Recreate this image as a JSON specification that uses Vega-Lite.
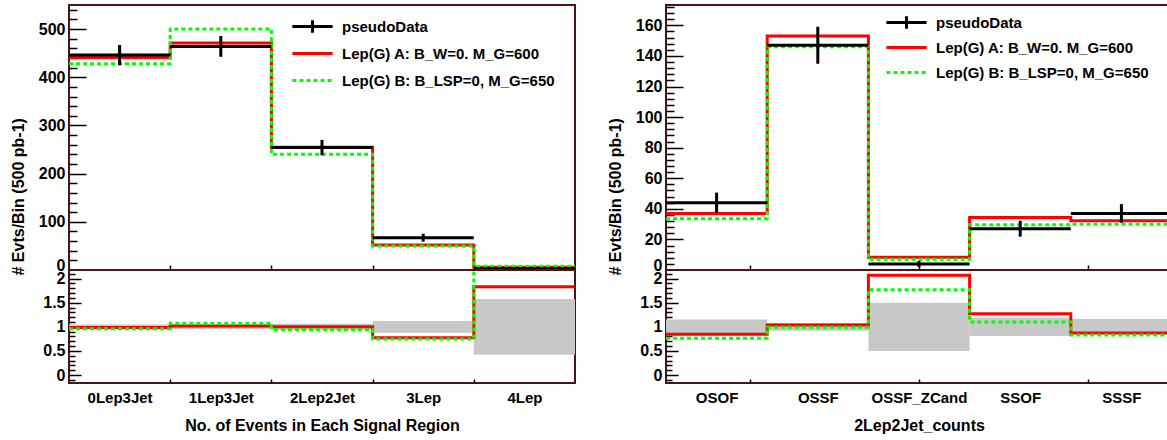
{
  "$schema": "https://vega.github.io/schema/vega-lite/v6.json",
  "background": "white",
  "padding": {"left": 9, "top": 4, "right": 0, "bottom": 0},
  "config": {
    "font": "Liberation Sans",
    "view": {"stroke": "#4a1515", "strokeWidth": 2, "fill": "white"},
    "axis": {
      "labelFont": "Liberation Sans", "labelFontWeight": "bold", "labelColor": "#000", "labelFontSize": 16,
      "labelFlush": false, "labelOverlap": false,
      "titleFont": "Liberation Sans", "titleFontWeight": "bold", "titleColor": "#000", "titleFontSize": 16,
      "domain": false, "grid": false, "tickColor": "#000", "tickWidth": 1.5
    }
  },
  "datasets": {
    "sr_model": [
      {"series": "A", "edge": 0, "v": 441}, {"series": "A", "edge": 1, "v": 471}, {"series": "A", "edge": 2, "v": 255},
      {"series": "A", "edge": 3, "v": 52}, {"series": "A", "edge": 4, "v": 5.5}, {"series": "A", "edge": 5, "v": 5.5},
      {"series": "B", "edge": 0, "v": 428}, {"series": "B", "edge": 1, "v": 500}, {"series": "B", "edge": 2, "v": 240},
      {"series": "B", "edge": 3, "v": 50}, {"series": "B", "edge": 4, "v": 8}, {"series": "B", "edge": 5, "v": 8}
    ],
    "sr_data": [
      {"region": "0Lep3Jet", "lo": 0, "mid": 0.5, "hi": 1, "n": 446, "n_lo": 425, "n_hi": 467},
      {"region": "1Lep3Jet", "lo": 1, "mid": 1.5, "hi": 2, "n": 464, "n_lo": 442.5, "n_hi": 485.5},
      {"region": "2Lep2Jet", "lo": 2, "mid": 2.5, "hi": 3, "n": 254, "n_lo": 238, "n_hi": 270},
      {"region": "3Lep", "lo": 3, "mid": 3.5, "hi": 4, "n": 67, "n_lo": 58.8, "n_hi": 75.2},
      {"region": "4Lep", "lo": 4, "mid": 4.5, "hi": 5, "n": 3, "n_lo": 1.3, "n_hi": 4.7}
    ],
    "sr_ratio": [
      {"series": "A", "edge": 0, "r": 0.988}, {"series": "A", "edge": 1, "r": 1.015}, {"series": "A", "edge": 2, "r": 1.0},
      {"series": "A", "edge": 3, "r": 0.776}, {"series": "A", "edge": 4, "r": 1.83}, {"series": "A", "edge": 5, "r": 1.83},
      {"series": "B", "edge": 0, "r": 0.959}, {"series": "B", "edge": 1, "r": 1.077}, {"series": "B", "edge": 2, "r": 0.945},
      {"series": "B", "edge": 3, "r": 0.746}, {"series": "B", "edge": 4, "r": 2.67}, {"series": "B", "edge": 5, "r": 2.67}
    ],
    "sr_band": [
      {"region": "0Lep3Jet", "lo": 0, "hi": 1, "b_lo": 0.953, "b_hi": 1.047},
      {"region": "1Lep3Jet", "lo": 1, "hi": 2, "b_lo": 0.954, "b_hi": 1.046},
      {"region": "2Lep2Jet", "lo": 2, "hi": 3, "b_lo": 0.937, "b_hi": 1.063},
      {"region": "3Lep", "lo": 3, "hi": 4, "b_lo": 0.878, "b_hi": 1.122},
      {"region": "4Lep", "lo": 4, "hi": 5, "b_lo": 0.423, "b_hi": 1.577}
    ],
    "ll_model": [
      {"series": "A", "edge": 0, "v": 37}, {"series": "A", "edge": 1, "v": 153}, {"series": "A", "edge": 2, "v": 8.3},
      {"series": "A", "edge": 3, "v": 34.3}, {"series": "A", "edge": 4, "v": 32.2}, {"series": "A", "edge": 5, "v": 32.2},
      {"series": "B", "edge": 0, "v": 33.5}, {"series": "B", "edge": 1, "v": 146}, {"series": "B", "edge": 2, "v": 7.1},
      {"series": "B", "edge": 3, "v": 29.6}, {"series": "B", "edge": 4, "v": 30}, {"series": "B", "edge": 5, "v": 30}
    ],
    "ll_data": [
      {"region": "OSOF", "lo": 0, "mid": 0.5, "hi": 1, "n": 44, "n_lo": 37.4, "n_hi": 50.6},
      {"region": "OSSF", "lo": 1, "mid": 1.5, "hi": 2, "n": 147, "n_lo": 134.9, "n_hi": 159.1},
      {"region": "OSSF_ZCand", "lo": 2, "mid": 2.5, "hi": 3, "n": 4, "n_lo": 2, "n_hi": 6},
      {"region": "SSOF", "lo": 3, "mid": 3.5, "hi": 4, "n": 27, "n_lo": 21.8, "n_hi": 32.2},
      {"region": "SSSF", "lo": 4, "mid": 4.5, "hi": 5, "n": 37, "n_lo": 30.9, "n_hi": 43.1}
    ],
    "ll_ratio": [
      {"series": "A", "edge": 0, "r": 0.845}, {"series": "A", "edge": 1, "r": 1.04}, {"series": "A", "edge": 2, "r": 2.07},
      {"series": "A", "edge": 3, "r": 1.27}, {"series": "A", "edge": 4, "r": 0.87}, {"series": "A", "edge": 5, "r": 0.87},
      {"series": "B", "edge": 0, "r": 0.765}, {"series": "B", "edge": 1, "r": 0.993}, {"series": "B", "edge": 2, "r": 1.77},
      {"series": "B", "edge": 3, "r": 1.1}, {"series": "B", "edge": 4, "r": 0.83}, {"series": "B", "edge": 5, "r": 0.83}
    ],
    "ll_band": [
      {"region": "OSOF", "lo": 0, "hi": 1, "b_lo": 0.849, "b_hi": 1.151},
      {"region": "OSSF", "lo": 1, "hi": 2, "b_lo": 0.918, "b_hi": 1.082},
      {"region": "OSSF_ZCand", "lo": 2, "hi": 3, "b_lo": 0.5, "b_hi": 1.5},
      {"region": "SSOF", "lo": 3, "hi": 4, "b_lo": 0.808, "b_hi": 1.192},
      {"region": "SSSF", "lo": 4, "hi": 5, "b_lo": 0.836, "b_hi": 1.164}
    ],
    "entries": [
      {"series": "pseudoData"},
      {"series": "Lep(G) A: B_W=0. M_G=600"},
      {"series": "Lep(G) B: B_LSP=0, M_G=650"}
    ]
  },
  "hconcat": [
    {
      "vconcat": [
        {
          "width": 506, "height": 265,
          "layer": [
            {
              "data": {"name": "sr_model"},
              "transform": [{"filter": "datum.series === 'A'"}],
              "mark": {"type": "line", "interpolate": "step-after", "color": "#ff0000", "strokeWidth": 3},
              "encoding": {
                "x": {"field": "edge", "type": "quantitative", "scale": {"domain": [0, 5], "nice": false, "zero": false},
                  "axis": {"orient": "bottom", "values": [1, 2, 3, 4], "labels": false, "tickSize": -5, "title": null}},
                "y": {"field": "v", "type": "quantitative", "scale": {"domain": [0, 550], "nice": false, "zero": false},
                  "axis": {"orient": "left", "values": [0, 100, 200, 300, 400, 500], "tickSize": -17, "labelPadding": 21,
                    "labelBaseline": {"condition": {"test": "datum.value === 0", "value": "alphabetic"}, "value": "middle"},
                    "title": "# Evts/Bin (500 pb-1)", "titleAngle": -90, "titleX": -51, "titleY": 270, "titleAlign": "left", "titleBaseline": "middle"}}
              }
            },
            {
              "data": {"name": "sr_model"},
              "transform": [{"filter": "datum.series === 'B'"}],
              "mark": {"type": "line", "interpolate": "step-after", "color": "#00ff00", "strokeWidth": 3, "strokeDash": [4, 3]},
              "encoding": {
                "x": {"field": "edge", "type": "quantitative", "axis": null},
                "y": {"field": "v", "type": "quantitative",
                  "axis": {"orient": "left", "values": [20, 40, 60, 80, 120, 140, 160, 180, 220, 240, 260, 280, 320, 340, 360, 380, 420, 440, 460, 480, 520, 540],
                    "labels": false, "tickSize": -8, "title": null}}
              }
            },
            {
              "data": {"name": "sr_data"},
              "mark": {"type": "rule", "color": "#000", "strokeWidth": 3},
              "encoding": {
                "x": {"field": "lo", "type": "quantitative", "axis": null},
                "x2": {"field": "hi"},
                "y": {"field": "n", "type": "quantitative", "axis": null}
              }
            },
            {
              "data": {"name": "sr_data"},
              "mark": {"type": "rule", "color": "#000", "strokeWidth": 3},
              "encoding": {
                "x": {"field": "mid", "type": "quantitative", "axis": null},
                "y": {"field": "n_lo", "type": "quantitative", "axis": null},
                "y2": {"field": "n_hi"}
              }
            },
            {
              "data": {"name": "entries"},
              "mark": {"type": "point", "filled": true, "opacity": 0, "size": 180},
              "encoding": {
                "color": {"field": "series", "type": "nominal",
                  "scale": {"domain": ["pseudoData", "Lep(G) A: B_W=0. M_G=600", "Lep(G) B: B_LSP=0, M_G=650"], "range": ["#000000", "#ff0000", "#00ff00"]},
                  "legend": {"orient": "none", "legendX": 236, "legendY": 14, "title": null, "padding": 0, "labelLimit": 0,
                    "labelFont": "Liberation Sans", "labelFontSize": 15, "labelFontWeight": "bold", "labelColor": "#000",
                    "symbolSize": 180, "symbolStrokeWidth": 0, "symbolOpacity": 1, "labelOffset": 22, "rowPadding": 11}},
                "shape": {"field": "series", "type": "nominal",
                  "scale": {"domain": ["pseudoData", "Lep(G) A: B_W=0. M_G=600", "Lep(G) B: B_LSP=0, M_G=650"],
                    "range": [
                      "M-3,-0.22H3V0.22H-3Z M-0.22,-0.95H0.22V0.95H-0.22Z",
                      "M-3,-0.22H3V0.22H-3Z",
                      "M-3,-0.22H-2.4V0.22H-3Z M-1.95,-0.22H-1.35V0.22H-1.95Z M-0.9,-0.22H-0.3V0.22H-0.9Z M0.15,-0.22H0.75V0.22H0.15Z M1.2,-0.22H1.8V0.22H1.2Z M2.25,-0.22H2.85V0.22H2.25Z"
                    ]},
                  "legend": {"orient": "none", "legendX": 236, "legendY": 14, "title": null, "padding": 0, "labelLimit": 0,
                    "labelFont": "Liberation Sans", "labelFontSize": 15, "labelFontWeight": "bold", "labelColor": "#000",
                    "symbolSize": 180, "symbolStrokeWidth": 0, "symbolOpacity": 1, "labelOffset": 22, "rowPadding": 11}}
              }
            }
          ],
          "resolve": {"axis": {"x": "independent", "y": "independent"}}
        },
        {
          "width": 506, "height": 113,
          "layer": [
            {
              "data": {"name": "sr_band"},
              "mark": {"type": "rect", "color": "#c8c8c8"},
              "encoding": {
                "x": {"field": "lo", "type": "quantitative", "scale": {"domain": [0, 5], "nice": false, "zero": false},
                  "axis": {"orient": "bottom", "values": [1, 2, 3, 4], "labels": false, "tickSize": -4, "title": null}},
                "x2": {"field": "hi"},
                "y": {"field": "b_lo", "type": "quantitative", "scale": {"domain": [-0.166, 2.18], "nice": false, "zero": false},
                  "axis": {"orient": "left", "values": [0, 0.5, 1, 1.5, 2], "format": "~g", "tickSize": -12, "labelPadding": 16, "title": null}},
                "y2": {"field": "b_hi"}
              }
            },
            {
              "data": {"name": "sr_ratio"},
              "transform": [{"filter": "datum.series === 'A'"}],
              "mark": {"type": "line", "interpolate": "step-after", "color": "#ff0000", "strokeWidth": 3, "clip": true},
              "encoding": {
                "x": {"field": "edge", "type": "quantitative",
                  "axis": {"orient": "bottom", "values": [0.5, 1.5, 2.5, 3.5, 4.5], "ticks": false, "labelPadding": 7, "labelFontSize": 15,
                    "labelExpr": "['0Lep3Jet','1Lep3Jet','2Lep2Jet','3Lep','4Lep'][round(datum.value - 0.5)]",
                    "title": "No. of Events in Each Signal Region", "titlePadding": 12}},
                "y": {"field": "r", "type": "quantitative",
                  "axis": {"orient": "left", "values": [-0.1, 0.1, 0.2, 0.3, 0.4, 0.6, 0.7, 0.8, 0.9, 1.1, 1.2, 1.3, 1.4, 1.6, 1.7, 1.8, 1.9, 2.1],
                    "labels": false, "tickSize": -6, "title": null}}
              }
            },
            {
              "data": {"name": "sr_ratio"},
              "transform": [{"filter": "datum.series === 'B'"}],
              "mark": {"type": "line", "interpolate": "step-after", "color": "#00ff00", "strokeWidth": 3, "strokeDash": [4, 3], "clip": true},
              "encoding": {
                "x": {"field": "edge", "type": "quantitative", "axis": null},
                "y": {"field": "r", "type": "quantitative", "axis": null}
              }
            },
            {
              "mark": {"type": "rule", "color": "#000", "strokeWidth": 2.5, "strokeDash": [3, 3]},
              "encoding": {
                "x": {"datum": 0.5, "type": "quantitative", "axis": null},
                "x2": {"datum": 4.5},
                "y": {"datum": 1, "type": "quantitative", "axis": null}
              }
            }
          ],
          "resolve": {"axis": {"x": "independent", "y": "independent"}}
        }
      ],
      "spacing": 0,
      "bounds": "flush",
      "resolve": {"scale": {"x": "independent", "y": "independent"}}
    },
    {
      "vconcat": [
        {
          "width": 506, "height": 265,
          "layer": [
            {
              "data": {"name": "ll_model"},
              "transform": [{"filter": "datum.series === 'A'"}],
              "mark": {"type": "line", "interpolate": "step-after", "color": "#ff0000", "strokeWidth": 3},
              "encoding": {
                "x": {"field": "edge", "type": "quantitative", "scale": {"domain": [0, 5], "nice": false, "zero": false},
                  "axis": {"orient": "bottom", "values": [0.8333, 2.5, 4.1667], "labels": false, "tickSize": -5, "title": null}},
                "y": {"field": "v", "type": "quantitative", "scale": {"domain": [0, 173.3], "nice": false, "zero": false},
                  "axis": {"orient": "left", "values": [0, 20, 40, 60, 80, 100, 120, 140, 160], "tickSize": -17, "labelPadding": 21,
                    "labelBaseline": {"condition": {"test": "datum.value === 0", "value": "alphabetic"}, "value": "middle"},
                    "title": "# Evts/Bin (500 pb-1)", "titleAngle": -90, "titleX": -51, "titleY": 270, "titleAlign": "left", "titleBaseline": "middle"}}
              }
            },
            {
              "data": {"name": "ll_model"},
              "transform": [{"filter": "datum.series === 'B'"}],
              "mark": {"type": "line", "interpolate": "step-after", "color": "#00ff00", "strokeWidth": 3, "strokeDash": [4, 3]},
              "encoding": {
                "x": {"field": "edge", "type": "quantitative", "axis": null},
                "y": {"field": "v", "type": "quantitative",
                  "axis": {"orient": "left", "values": [4, 8, 12, 16, 24, 28, 32, 36, 44, 48, 52, 56, 64, 68, 72, 76, 84, 88, 92, 96, 104, 108, 112, 116, 124, 128, 132, 136, 144, 148, 152, 156, 164, 168, 172],
                    "labels": false, "tickSize": -8, "title": null}}
              }
            },
            {
              "data": {"name": "ll_data"},
              "mark": {"type": "rule", "color": "#000", "strokeWidth": 3},
              "encoding": {
                "x": {"field": "lo", "type": "quantitative", "axis": null},
                "x2": {"field": "hi"},
                "y": {"field": "n", "type": "quantitative", "axis": null}
              }
            },
            {
              "data": {"name": "ll_data"},
              "mark": {"type": "rule", "color": "#000", "strokeWidth": 3},
              "encoding": {
                "x": {"field": "mid", "type": "quantitative", "axis": null},
                "y": {"field": "n_lo", "type": "quantitative", "axis": null},
                "y2": {"field": "n_hi"}
              }
            },
            {
              "data": {"name": "entries"},
              "mark": {"type": "point", "filled": true, "opacity": 0, "size": 180},
              "encoding": {
                "color": {"field": "series", "type": "nominal",
                  "scale": {"domain": ["pseudoData", "Lep(G) A: B_W=0. M_G=600", "Lep(G) B: B_LSP=0, M_G=650"], "range": ["#000000", "#ff0000", "#00ff00"]},
                  "legend": {"orient": "none", "legendX": 233, "legendY": 10, "title": null, "padding": 0, "labelLimit": 0,
                    "labelFont": "Liberation Sans", "labelFontSize": 15, "labelFontWeight": "bold", "labelColor": "#000",
                    "symbolSize": 180, "symbolStrokeWidth": 0, "symbolOpacity": 1, "labelOffset": 22, "rowPadding": 9}},
                "shape": {"field": "series", "type": "nominal",
                  "scale": {"domain": ["pseudoData", "Lep(G) A: B_W=0. M_G=600", "Lep(G) B: B_LSP=0, M_G=650"],
                    "range": [
                      "M-3,-0.22H3V0.22H-3Z M-0.22,-0.95H0.22V0.95H-0.22Z",
                      "M-3,-0.22H3V0.22H-3Z",
                      "M-3,-0.22H-2.4V0.22H-3Z M-1.95,-0.22H-1.35V0.22H-1.95Z M-0.9,-0.22H-0.3V0.22H-0.9Z M0.15,-0.22H0.75V0.22H0.15Z M1.2,-0.22H1.8V0.22H1.2Z M2.25,-0.22H2.85V0.22H2.25Z"
                    ]},
                  "legend": {"orient": "none", "legendX": 233, "legendY": 10, "title": null, "padding": 0, "labelLimit": 0,
                    "labelFont": "Liberation Sans", "labelFontSize": 15, "labelFontWeight": "bold", "labelColor": "#000",
                    "symbolSize": 180, "symbolStrokeWidth": 0, "symbolOpacity": 1, "labelOffset": 22, "rowPadding": 9}}
              }
            }
          ],
          "resolve": {"axis": {"x": "independent", "y": "independent"}}
        },
        {
          "width": 506, "height": 113,
          "layer": [
            {
              "data": {"name": "ll_band"},
              "mark": {"type": "rect", "color": "#c8c8c8"},
              "encoding": {
                "x": {"field": "lo", "type": "quantitative", "scale": {"domain": [0, 5], "nice": false, "zero": false},
                  "axis": {"orient": "bottom", "values": [0.8333, 2.5, 4.1667], "labels": false, "tickSize": -4, "title": null}},
                "x2": {"field": "hi"},
                "y": {"field": "b_lo", "type": "quantitative", "scale": {"domain": [-0.166, 2.18], "nice": false, "zero": false},
                  "axis": {"orient": "left", "values": [0, 0.5, 1, 1.5, 2], "format": "~g", "tickSize": -12, "labelPadding": 16, "title": null}},
                "y2": {"field": "b_hi"}
              }
            },
            {
              "data": {"name": "ll_ratio"},
              "transform": [{"filter": "datum.series === 'A'"}],
              "mark": {"type": "line", "interpolate": "step-after", "color": "#ff0000", "strokeWidth": 3, "clip": true},
              "encoding": {
                "x": {"field": "edge", "type": "quantitative",
                  "axis": {"orient": "bottom", "values": [0.5, 1.5, 2.5, 3.5, 4.5], "ticks": false, "labelPadding": 7, "labelFontSize": 15,
                    "labelExpr": "['OSOF','OSSF','OSSF_ZCand','SSOF','SSSF'][round(datum.value - 0.5)]",
                    "title": "2Lep2Jet_counts", "titlePadding": 12}},
                "y": {"field": "r", "type": "quantitative",
                  "axis": {"orient": "left", "values": [-0.1, 0.1, 0.2, 0.3, 0.4, 0.6, 0.7, 0.8, 0.9, 1.1, 1.2, 1.3, 1.4, 1.6, 1.7, 1.8, 1.9, 2.1],
                    "labels": false, "tickSize": -6, "title": null}}
              }
            },
            {
              "data": {"name": "ll_ratio"},
              "transform": [{"filter": "datum.series === 'B'"}],
              "mark": {"type": "line", "interpolate": "step-after", "color": "#00ff00", "strokeWidth": 3, "strokeDash": [4, 3], "clip": true},
              "encoding": {
                "x": {"field": "edge", "type": "quantitative", "axis": null},
                "y": {"field": "r", "type": "quantitative", "axis": null}
              }
            },
            {
              "mark": {"type": "rule", "color": "#000", "strokeWidth": 2.5, "strokeDash": [3, 3]},
              "encoding": {
                "x": {"datum": 0.5, "type": "quantitative", "axis": null},
                "x2": {"datum": 4.5},
                "y": {"datum": 1, "type": "quantitative", "axis": null}
              }
            }
          ],
          "resolve": {"axis": {"x": "independent", "y": "independent"}}
        }
      ],
      "spacing": 0,
      "bounds": "flush",
      "resolve": {"scale": {"x": "independent", "y": "independent"}}
    }
  ],
  "spacing": 24,
  "resolve": {
    "scale": {"x": "independent", "y": "independent", "color": "independent", "shape": "independent"},
    "legend": {"color": "independent", "shape": "independent"}
  }
}
